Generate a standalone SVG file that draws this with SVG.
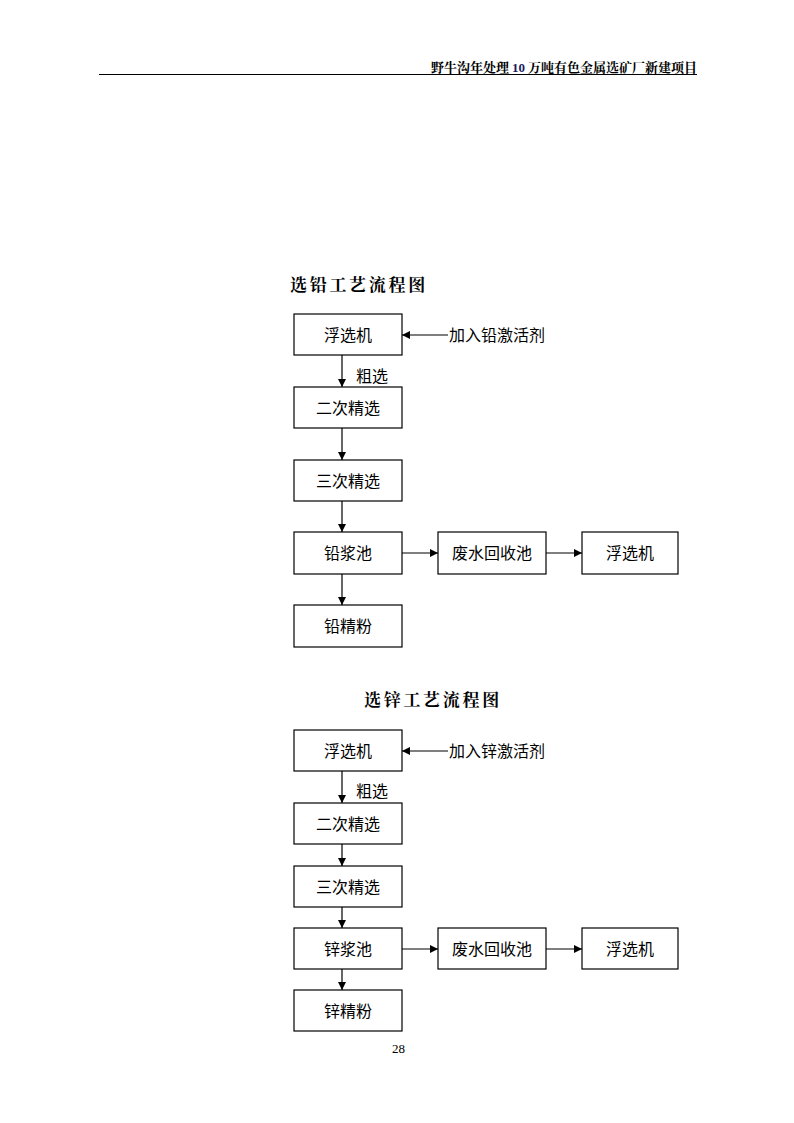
<svg xmlns="http://www.w3.org/2000/svg" width="794" height="1123" viewBox="0 0 794 1123">
<style>
.box{fill:#fff;stroke:#000;stroke-width:1.2}
.t{font-family:"Noto Sans CJK SC","Liberation Sans",sans-serif;font-size:16px;fill:#000;text-anchor:middle}
.tl{font-family:"Noto Sans CJK SC","Liberation Sans",sans-serif;font-size:16px;fill:#000}
.title{font-family:"Noto Serif CJK SC","Noto Sans CJK SC",serif;font-size:17px;font-weight:bold;letter-spacing:2.7px;fill:#000}
.hdr{font-family:"Noto Serif CJK SC","Noto Sans CJK SC",serif;font-size:13px;font-weight:bold;fill:#000}
.ln{stroke:#000;stroke-width:1.2;fill:none}
</style>
<defs>
<marker id="ah" viewBox="0 0 10 10" refX="10" refY="5" markerWidth="8" markerHeight="8" markerUnits="userSpaceOnUse" orient="auto">
<path d="M0,0 L10,5 L0,10 z" fill="#000"/>
</marker>
</defs>
<rect width="794" height="1123" fill="#fff"/>
<g id="header">
<text class="hdr" x="697" y="72" text-anchor="end">野牛沟年处理<tspan font-family="Liberation Serif,serif" fill="#1a1a5e" dx="3">10</tspan><tspan dx="3">万吨有色金属选矿厂新建项目</tspan></text>
<line x1="99" y1="74.5" x2="697" y2="74.5" stroke="#000" stroke-width="1"/>
</g>
<g id="connectors">
<line class="ln" x1="448" y1="335" x2="402" y2="335" marker-end="url(#ah)"/>
<line class="ln" x1="342" y1="355" x2="342" y2="387" marker-end="url(#ah)"/>
<line class="ln" x1="342" y1="428" x2="342" y2="460" marker-end="url(#ah)"/>
<line class="ln" x1="342" y1="501" x2="342" y2="532" marker-end="url(#ah)"/>
<line class="ln" x1="342" y1="574" x2="342" y2="605" marker-end="url(#ah)"/>
<line class="ln" x1="402" y1="553" x2="438" y2="553" marker-end="url(#ah)"/>
<line class="ln" x1="546" y1="553" x2="582" y2="553" marker-end="url(#ah)"/>
<line class="ln" x1="448" y1="751" x2="402" y2="751" marker-end="url(#ah)"/>
<line class="ln" x1="342" y1="771" x2="342" y2="803" marker-end="url(#ah)"/>
<line class="ln" x1="342" y1="844" x2="342" y2="866" marker-end="url(#ah)"/>
<line class="ln" x1="342" y1="907" x2="342" y2="928" marker-end="url(#ah)"/>
<line class="ln" x1="342" y1="969" x2="342" y2="990" marker-end="url(#ah)"/>
<line class="ln" x1="402" y1="949" x2="438" y2="949" marker-end="url(#ah)"/>
<line class="ln" x1="546" y1="949" x2="582" y2="949" marker-end="url(#ah)"/>
</g>
<g id="lead">
<text class="title" x="290" y="291">选铅工艺流程图</text>
<g id="pb-float"><rect class="box" x="294" y="314" width="108" height="41"/><text class="t" x="348" y="341">浮选机</text></g>
<g id="pb-add"><text class="tl" x="449" y="341">加入铅激活剂</text></g>
<g id="pb-rough"><text class="tl" x="356" y="382">粗选</text></g>
<g id="pb-2"><rect class="box" x="294" y="387" width="108" height="41"/><text class="t" x="348" y="414">二次精选</text></g>
<g id="pb-3"><rect class="box" x="294" y="460" width="108" height="41"/><text class="t" x="348" y="487">三次精选</text></g>
<g id="pb-slurry"><rect class="box" x="294" y="532" width="108" height="42"/><text class="t" x="348" y="559">铅浆池</text></g>
<g id="pb-water"><rect class="box" x="438" y="532" width="108" height="42"/><text class="t" x="492" y="559">废水回收池</text></g>
<g id="pb-float2"><rect class="box" x="582" y="532" width="96" height="42"/><text class="t" x="630" y="559">浮选机</text></g>
<g id="pb-conc"><rect class="box" x="294" y="605" width="108" height="42"/><text class="t" x="348" y="632">铅精粉</text></g>
</g>
<g id="zinc">
<text class="title" x="364" y="706">选锌工艺流程图</text>
<g id="zn-float"><rect class="box" x="294" y="730" width="108" height="41"/><text class="t" x="348" y="757">浮选机</text></g>
<g id="zn-add"><text class="tl" x="449" y="757">加入锌激活剂</text></g>
<g id="zn-rough"><text class="tl" x="356" y="797">粗选</text></g>
<g id="zn-2"><rect class="box" x="294" y="803" width="108" height="41"/><text class="t" x="348" y="830">二次精选</text></g>
<g id="zn-3"><rect class="box" x="294" y="866" width="108" height="41"/><text class="t" x="348" y="893">三次精选</text></g>
<g id="zn-slurry"><rect class="box" x="294" y="928" width="108" height="41"/><text class="t" x="348" y="955">锌浆池</text></g>
<g id="zn-water"><rect class="box" x="438" y="928" width="108" height="41"/><text class="t" x="492" y="955">废水回收池</text></g>
<g id="zn-float2"><rect class="box" x="582" y="928" width="96" height="41"/><text class="t" x="630" y="955">浮选机</text></g>
<g id="zn-conc"><rect class="box" x="294" y="990" width="108" height="41"/><text class="t" x="348" y="1017">锌精粉</text></g>
</g>
<text x="398.5" y="1053" text-anchor="middle" font-family="Liberation Serif,serif" font-size="13" fill="#000">28</text>
</svg>
